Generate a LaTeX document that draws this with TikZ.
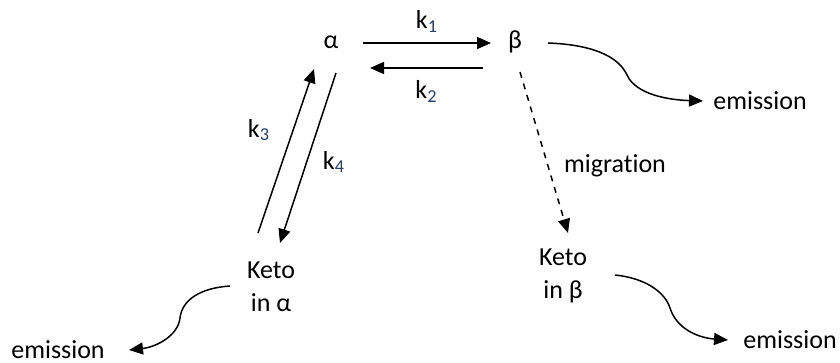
\documentclass[tikz,border=0pt]{standalone}
\usepackage{fontspec}
\setmainfont[RawFeature={-liga;-clig;-calt}]{Carlito}
\usetikzlibrary{arrows.meta}
\definecolor{subblue}{HTML}{1F3F70}
\newcommand{\rate}[1]{k\textsubscript{\color{subblue}#1}}
\tikzset{lbl/.style={font=\fontsize{13}{16.5}\selectfont, inner sep=0pt, align=center},
  rxn/.style={-{Triangle[length=7pt,width=6pt]}, line width=0.75pt}}

\begin{document}
\begin{tikzpicture}[x=0.5pt, y=-0.5pt]
\useasboundingbox (0,0) rectangle (840,363);
% States
\node[lbl] (alpha) at (331,42) {α};
\node[lbl] (beta) at (515,42) {β};
\node[lbl] (ketoA) at (271,287) {Keto\\in α};
\node[lbl] (ketoB) at (563,276) {Keto\\in β};
\node[lbl] (emB) at (760,101) {emission};
\node[lbl] (emA) at (58,350) {emission};
\node[lbl] (emK) at (790,340) {emission};

% alpha <-> beta
\coordinate (k1s) at (363,43);
\coordinate (k1e) at (491,43);
\coordinate (k2s) at (483,68);
\coordinate (k2e) at (370,68);
\draw[rxn] (k1s) -- (k1e) node[lbl, midway, above=5pt] {\rate{1}};
\draw[rxn] (k2s) -- (k2e) node[lbl, midway, below=6pt] {\rate{2}};

% alpha <-> keto in alpha
\coordinate (k3s) at (258,233);
\coordinate (k3e) at (314,69);
\coordinate (k4s) at (336,73);
\coordinate (k4e) at (280,243);
\draw[rxn] (k3s) -- (k3e);
\draw[rxn] (k4s) -- (k4e);
\node[lbl] (k3) at (259,130) {\rate{3}};
\node[lbl] (k4) at (334,162) {\rate{4}};

% migration
\coordinate (mgs) at (520,72);
\coordinate (mge) at (568,233);
\draw[rxn, dashed] (mgs) -- (mge);
\node[lbl] (mig) at (615,166) {migration};

% emissions
\coordinate (eBs) at (548,43);
\coordinate (eBe) at (703,101);
\draw[rxn] (eBs) .. controls (600,45) and (620,60) .. (627,75)
  .. controls (636,95) and (670,100) .. (eBe);
\coordinate (eAs) at (230,286);
\coordinate (eAe) at (129,350);
\draw[rxn] (eAs) .. controls (200,288) and (182,300) .. (180,318)
  .. controls (178,336) and (156,347) .. (eAe);
\coordinate (eKs) at (615,275);
\coordinate (eKe) at (728,340);
\draw[rxn] (eKs) .. controls (645,278) and (665,292) .. (670,308)
  .. controls (677,330) and (700,338) .. (eKe);
\end{tikzpicture}
\end{document}
